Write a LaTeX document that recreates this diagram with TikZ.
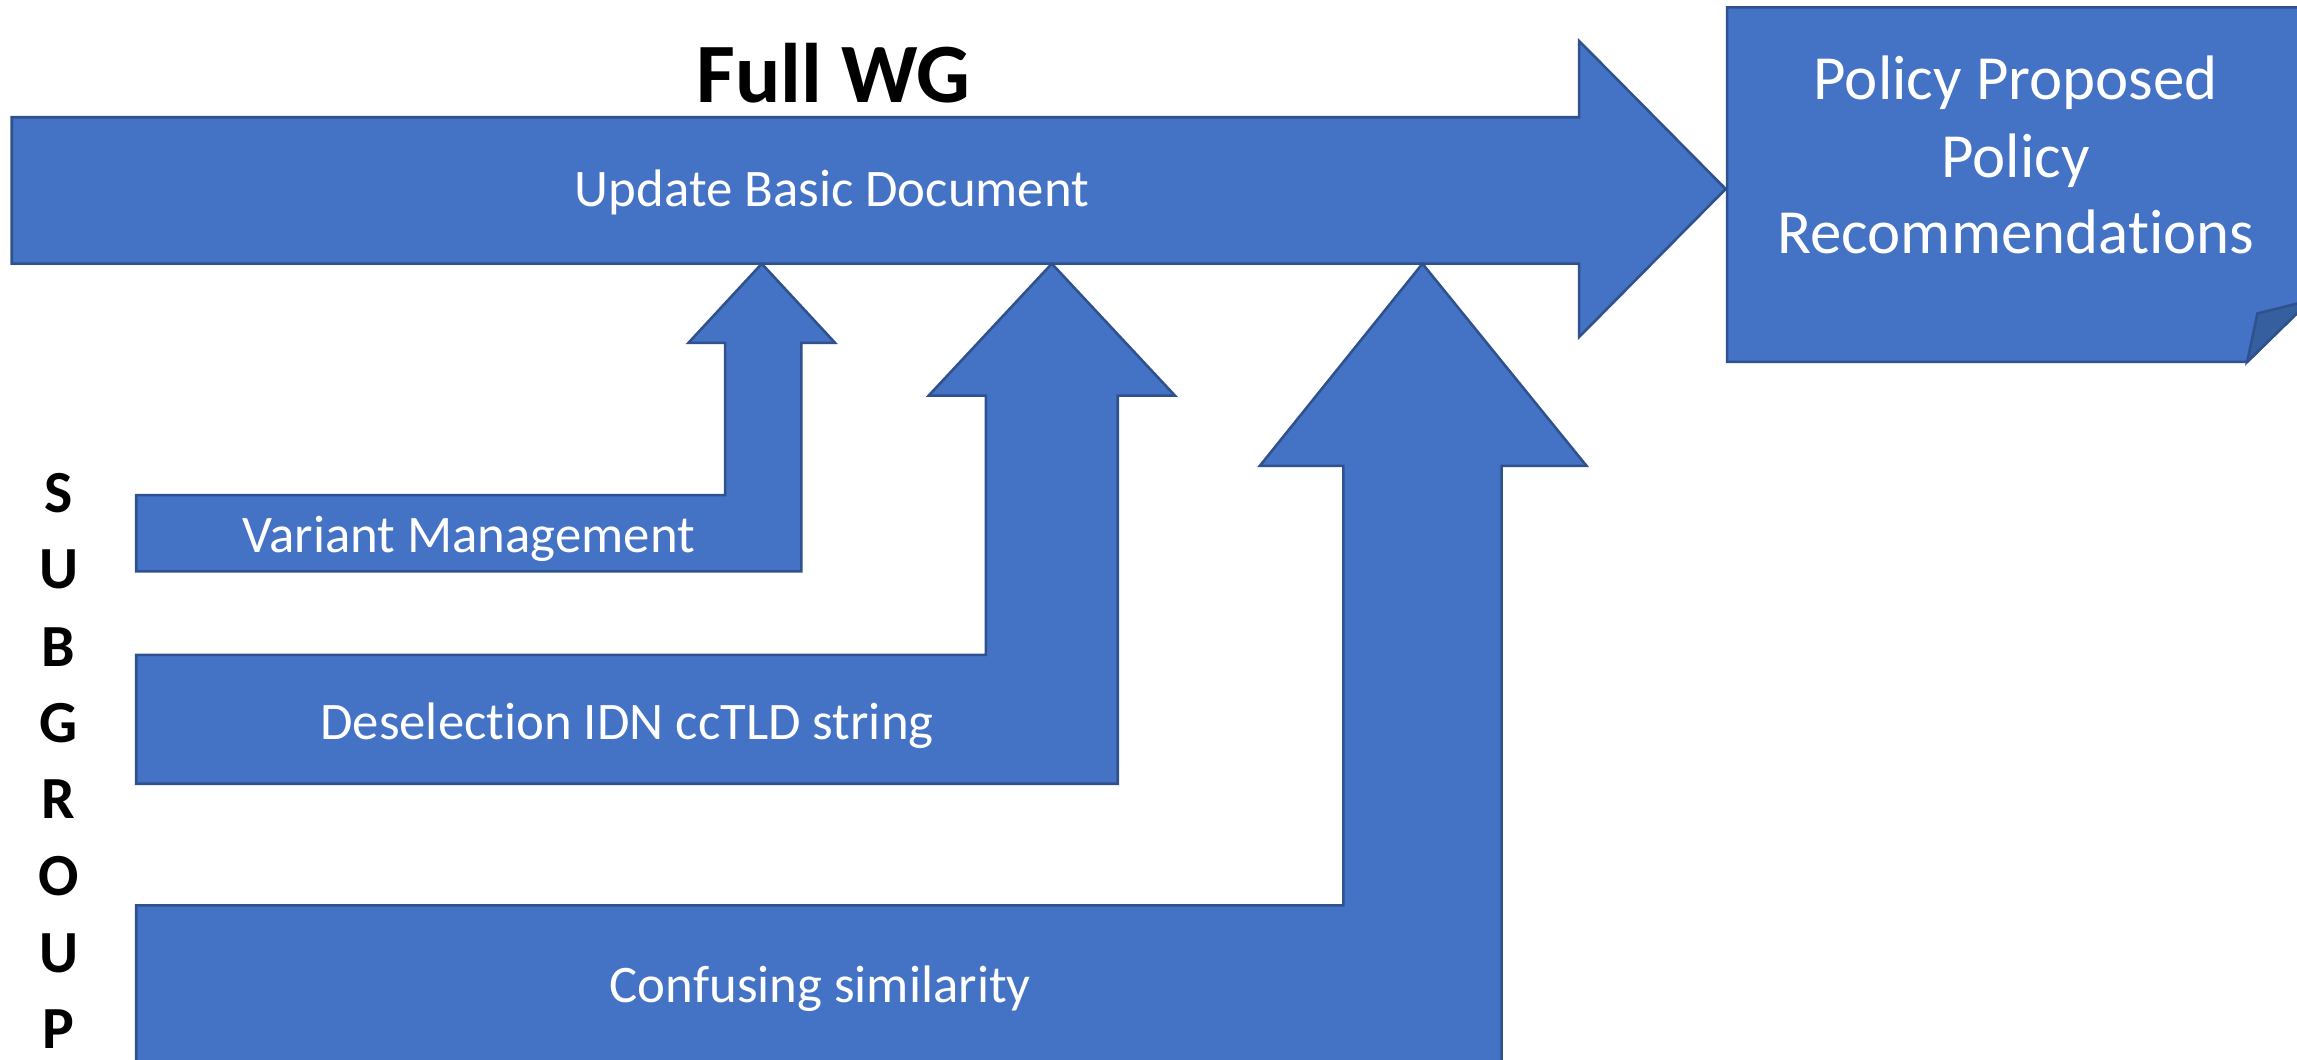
\documentclass[tikz,border=0pt]{standalone}
\usepackage{fontspec}
\setmainfont{Carlito}[Ligatures=NoCommon]
\usepackage{xcolor}
\usepackage{tikz}
\usetikzlibrary{positioning}
\definecolor{wgblue}{HTML}{4472C4}
\definecolor{wgedge}{HTML}{2F528F}
\definecolor{wgfold}{HTML}{365F9F}

\begin{document}
\begin{tikzpicture}[x=0.01cm,y=-0.01cm,
		blockarrow/.style={fill=wgblue,draw=wgedge,line width=0.5pt,line join=miter},
		wgtext/.style={text=white,font=\fontsize{10.25}{12}\selectfont,anchor=base,inner sep=0pt},
		boxtext/.style={text=white,font=\fontsize{12.2}{15}\selectfont,anchor=base,inner sep=0pt},
		sgletter/.style={font=\bfseries\fontsize{11.6}{14}\selectfont,anchor=base,inner sep=0pt}]
		\useasboundingbox (0,0) rectangle (1568,723);
		\clip (0,0) rectangle (1568,723);
		\draw[blockarrow] (8,80) -- (1078,80) -- (1078,28) -- (1178,129) -- (1078,230) -- (1078,180) -- (8,180) -- cycle;
		\draw[blockarrow] (93,338) -- (495,338) -- (495,234) -- (470,234) -- (520,180) -- (570,234) -- (547,234) -- (547,390) -- (93,390) -- cycle;
		\draw[blockarrow] (93,447) -- (673,447) -- (673,270) -- (634,270) -- (718,180) -- (802,270) -- (763,270) -- (763,535) -- (93,535) -- cycle;
		\draw[blockarrow] (93,618) -- (917,618) -- (917,318) -- (860,318) -- (971,180) -- (1083,318) -- (1025,318) -- (1025,760) -- (93,760) -- cycle;
		\draw[blockarrow] (1179,5) -- (1577,5) -- (1577,205) -- (1534,247) -- (1179,247) -- cycle;
		\draw[fill=wgfold,draw=wgedge,line width=0.5pt] (1534,247) -- (1541,214) -- (1577,205) -- cycle;
		\node[font=\bfseries\fontsize{16.4}{20}\selectfont,anchor=base,inner sep=0pt] (fullwg) at (569,70) {Full WG};
		\node[wgtext] (update) at (568,141) {Update Basic Document};
		\node[wgtext] (variant) at (320,377) {Variant Management};
		\node[wgtext] (deselect) at (428,505) {Deselection IDN ccTLD string};
		\node[wgtext] (confuse) at (560,684) {Confusing similarity};
		\node[boxtext] (polA) at (1376,68) {Policy Proposed};
		\node[boxtext] (polB) at (1376,121) {Policy};
		\node[boxtext] (polC) at (1376,173) {Recommendations};
		\node[sgletter] (sgS) at (40,350) {S};
		\node[sgletter] (sgU) at (40,402) {U};
		\node[sgletter] (sgB) at (40,455) {B};
		\node[sgletter] (sgG) at (40,507) {G};
		\node[sgletter] (sgR) at (40,559) {R};
		\node[sgletter] (sgO) at (40,611) {O};
		\node[sgletter] (sgU2) at (40,664) {U};
		\node[sgletter] (sgP) at (40,716) {P};
	\end{tikzpicture}
\end{document}
